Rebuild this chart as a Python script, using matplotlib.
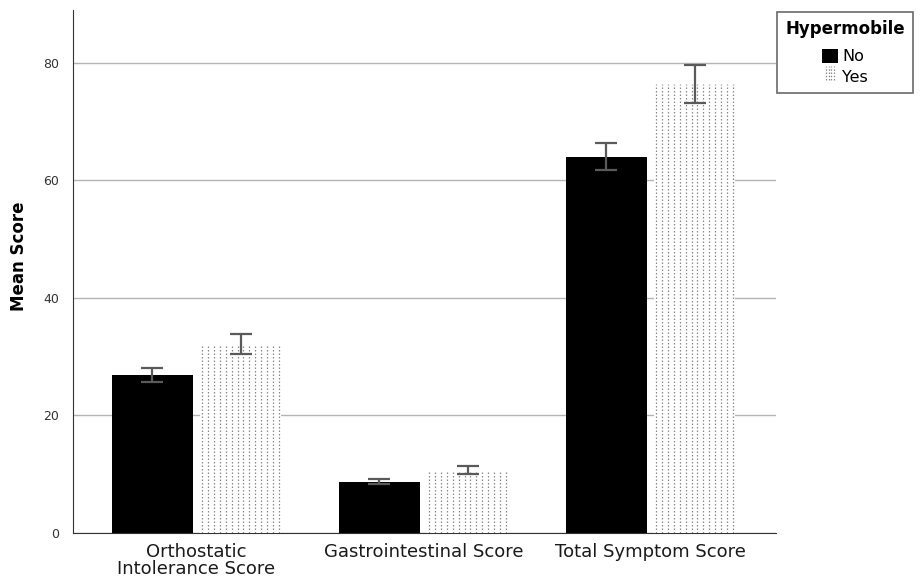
import matplotlib
matplotlib.use('Agg')
import matplotlib.pyplot as plt
import numpy as np
from matplotlib.patches import Patch
from matplotlib.lines import Line2D
from matplotlib.legend_handler import HandlerBase

categories = ["Orthostatic\nIntolerance Score", "Gastrointestinal Score", "Total Symptom Score"]
no_mean = [26.9, 8.7, 63.9]
no_low = [25.7, 8.3, 61.7]
no_high = [28.0, 9.2, 66.3]
yes_mean = [32.2, 10.6, 76.4]
yes_low = [30.5, 10.1, 73.1]
yes_high = [33.8, 11.4, 79.7]

plt.rcParams['font.family'] = ['DejaVu Sans']

fig = plt.figure(figsize=(9.21, 5.81), dpi=100)
ax = fig.add_axes([0.0793, 0.0826, 0.7633, 0.9002])

x = np.arange(len(categories))
w = 0.357
off = 0.194
err_kw = dict(fmt='none', ecolor='#5a5a5a', elinewidth=1.6, capsize=8, capthick=1.6, zorder=5)

ax.bar(x - off, no_mean, w, color='black', zorder=3)
ax.errorbar(x - off, no_mean,
            yerr=[np.subtract(no_mean, no_low), np.subtract(no_high, no_mean)], **err_kw)

yes_bars = ax.bar(x + off, yes_mean, w, color='white', zorder=3)
# dotted vertical fill inside the "Yes" bars
for b in yes_bars:
    xs = np.linspace(b.get_x() + 0.01, b.get_x() + b.get_width() - 0.01, 14)
    ax.vlines(xs, 0, b.get_height(), colors='#8a8a8a', linewidth=0.9,
              linestyles=(0, (1.2, 1.6)), zorder=4)
ax.errorbar(x + off, yes_mean,
            yerr=[np.subtract(yes_mean, yes_low), np.subtract(yes_high, yes_mean)], **err_kw)

ax.set_xlim(-0.544, 2.553)
ax.set_ylim(0, 89)
ax.set_yticks([0, 20, 40, 60, 80])
ax.yaxis.grid(True, color='#b4b4b4', linewidth=1.0, zorder=0)
ax.set_axisbelow(True)
ax.set_xticks(x)
ax.set_xticklabels(categories, fontsize=13, linespacing=0.95, color='#1a1a1a')
ax.tick_params(axis='x', length=0, pad=7)
ax.tick_params(axis='y', length=0, pad=10, labelsize=9, labelcolor='#333333')
for s in ['top', 'right']:
    ax.spines[s].set_visible(False)
ax.spines['left'].set_color('#333333')
ax.spines['bottom'].set_color('#333333')
ax.set_ylabel("Mean Score", fontsize=12, fontweight='bold')
ax.yaxis.set_label_coords(-0.064, 0.53)


class DottedHandler(HandlerBase):
    def create_artists(self, legend, orig_handle, xd, yd, width, height, fontsize, trans):
        arts = []
        for xi in np.linspace(xd + 3, xd + width - 3, 4):
            arts.append(Line2D([xi, xi], [yd, yd + height], color='#8a8a8a', lw=0.9,
                               linestyle=(0, (1.2, 1.4)), transform=trans))
        return arts


dotted = object()
handles = [Patch(facecolor='black'), dotted]
leg = fig.legend(handles, ["No", "Yes"], title="Hypermobile",
                 handler_map={dotted: DottedHandler()},
                 loc='upper left', bbox_to_anchor=(0.8437, 0.98),
                 fontsize=11.5, title_fontproperties={'weight': 'bold', 'size': 12},
                 frameon=True, fancybox=False, edgecolor='#444444',
                 handlelength=1.0, handleheight=1.0, handletextpad=0.25,
                 labelspacing=0.3, borderpad=0.5, borderaxespad=0)
leg.get_frame().set_linewidth(1.2)
leg._legend_box.sep = 8

fig.savefig("out.png", dpi=100)
